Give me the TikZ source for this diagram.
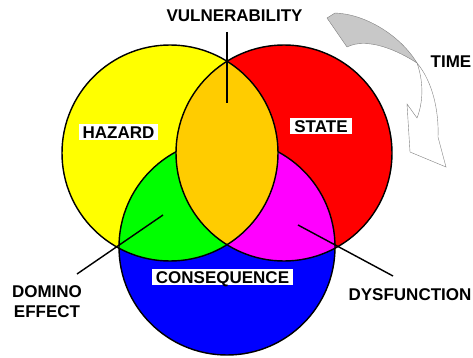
\documentclass[tikz,border=0pt]{standalone}
\usepackage{fontspec}
\setmainfont{Liberation Sans}
\definecolor{hazard}{RGB}{255,255,0}
\definecolor{state}{RGB}{255,0,0}
\definecolor{conseq}{RGB}{0,0,255}
\definecolor{domino}{RGB}{0,255,0}
\definecolor{dysf}{RGB}{255,0,255}
\definecolor{lens}{RGB}{255,204,0}
\definecolor{ribbon}{RGB}{200,200,200}
\tikzset{
	lbl/.style={font=\fontsize{17}{20}\selectfont\bfseries},
	boxlbl/.style={lbl, fill=white, inner xsep=4pt, inner ysep=2pt, text height=12.2pt, text depth=0pt},
	ring/.style={line width=0.5mm},
	pointer/.style={line width=0.5mm}
}
\begin{document}
\begin{tikzpicture}[x=1pt,y=-1pt]
	\def\rad{108pt};
	\useasboundingbox (0,0) rectangle (473,358);
	\coordinate (H) at (170,153);
	\coordinate (S) at (284,153);
	\coordinate (C) at (227,247);
	
	% the three sets
	\fill[hazard] (H) circle (\rad);
	\fill[state] (S) circle (\rad);
	\fill[conseq] (C) circle (\rad);
	\begin{scope}
		\clip (H) circle (\rad);
		\fill[domino] (C) circle (\rad);
	\end{scope}
	\begin{scope}
		\clip (S) circle (\rad);
		\fill[dysf] (C) circle (\rad);
	\end{scope}
	\draw[ring] (C) circle (\rad);
	\begin{scope}
		\clip (H) circle (\rad);
		\fill[lens] (S) circle (\rad);
	\end{scope}
	\draw[ring] (H) circle (\rad);
	\draw[ring] (S) circle (\rad);
	
	% twisted time arrow
	\filldraw[fill=ribbon, draw=gray, line width=0.4pt] (327,18) -- (335,13)
		.. controls (365,14) and (400,35) .. (417,63)
		.. controls (397,50) and (367,37) .. (347,47) -- cycle;
	\filldraw[fill=white, draw=gray, line width=0.4pt] (417,63)
		.. controls (423,80) and (424,100) .. (417,118) -- (407,104) -- (410,152) -- (446,167) -- (438,137)
		.. controls (439,112) and (433,82) .. (417,63) -- cycle;
	
	% labels
	\node[lbl] (vul) at (234.5,16) {VULNERABILITY};
	\node[lbl] (time) at (451,62) {TIME};
	\node[boxlbl] (haz) at (118.5,132) {HAZARD};
	\node[boxlbl] (state) at (321,126) {STATE};
	\node[boxlbl] (cons) at (222.5,277) {CONSEQUENCE};
	\node[lbl, align=center] (dom) at (47,302) {DOMINO\\EFFECT};
	\node[lbl] (dys) at (410,295) {DYSFUNCTION};
	
	% pointers
	\coordinate (vtop) at (227,32);
	\coordinate (vend) at (227,103);
	\coordinate (dtop) at (77,274);
	\coordinate (dend) at (163,215);
	\coordinate (ftop) at (393,276);
	\coordinate (fend) at (298,225);
	\draw[pointer] (vtop) -- (vend);
	\draw[pointer] (dtop) -- (dend);
	\draw[pointer] (ftop) -- (fend);
\end{tikzpicture}
\end{document}
